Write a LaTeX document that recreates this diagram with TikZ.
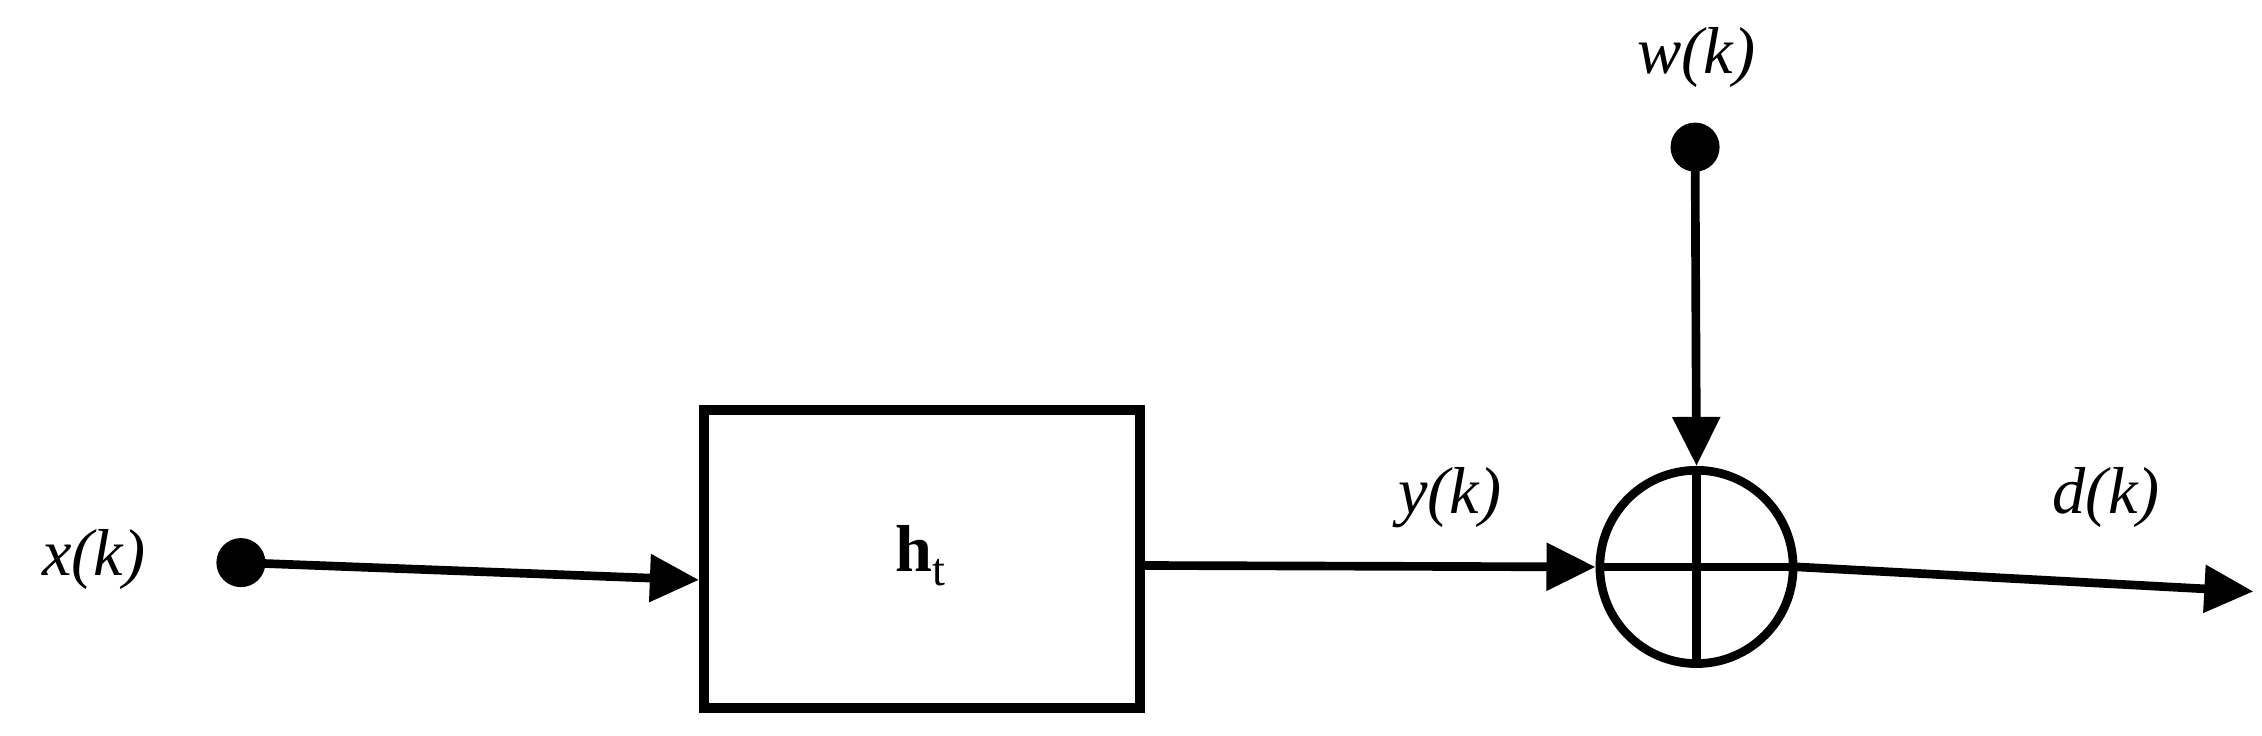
\documentclass[tikz,border=0pt]{standalone}
\usepackage{fontspec}
\setmainfont{Liberation Serif}
\usetikzlibrary{arrows.meta}
\begin{document}
\begin{tikzpicture}[x=1pt,y=-1pt,
  wire/.style={line width=6pt},
  arr/.style={wire,-{Triangle[length=34pt,width=32pt]}},
  lbl/.style={font=\fontsize{46}{50}\selectfont\itshape},
  dot/.style={circle,fill=black,inner sep=0pt,minimum size=34pt}]
\useasboundingbox (0,0) rectangle (1568,510);
\node[dot] (xd) at (167,390) {};
\node[lbl] (xl) at (65,388) {x(k)};
\node[draw,line width=7pt,minimum width=302pt,minimum height=207pt] (h) at (639,387.5) {};
\node[font=\fontsize{46}{50}\selectfont] at (638,385) {$\mathbf{h}_{\mathrm{t}}$};
\node[draw,line width=6pt,circle,minimum size=134pt,inner sep=0pt] (s) at (1176,393) {};
\draw[line width=6pt] (s.north) -- (s.south) (s.west) -- (s.east);
\node[dot] (wd) at (1175,102) {};
\node[lbl] (wl) at (1176,40) {w(k)};
\node[lbl] (yl) at (1005,345) {y(k)};
\node[lbl] (dl) at (1460,345) {d(k)};
\coordinate (out) at (1562,410);
\draw[arr] (xd.center) -- (h.west |- 0,402);
\draw[arr] (h.east |- 0,392) -- (s.west);
\draw[arr] (wd.center) -- (s.north);
\draw[arr] (s.east) -- (out);
\end{tikzpicture}
\end{document}
